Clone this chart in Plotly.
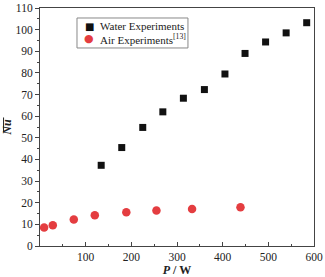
import plotly.graph_objects as go

water_p = [134, 179, 225, 269, 314, 360, 405, 449, 494, 539, 584]
water_nu = [37.3, 45.5, 54.8, 62.0, 68.3, 72.3, 79.5, 89.0, 94.3, 98.5, 103.2]
air_p = [9, 28, 74, 120, 189, 255, 333, 439]
air_nu = [8.5, 9.6, 12.3, 14.2, 15.6, 16.4, 17.1, 17.9]
series_names = ["Water Experiments", "Air Experiments<sup>[13]</sup>"]
series_colors = ["#111111", "#e43d40"]
series_glyphs = ["\u25A0", "\u25CF"]

font = "Liberation Serif, Times New Roman, serif"

fig = go.Figure()
fig.add_trace(go.Scatter(x=water_p, y=water_nu, mode="markers", name=series_names[0],
                         marker=dict(symbol="square", size=7, color=series_colors[0])))
fig.add_trace(go.Scatter(x=air_p, y=air_nu, mode="markers", name=series_names[1],
                         marker=dict(symbol="circle", size=8.5, color=series_colors[1])))

# manual legend (box + glyphs + labels) placed in paper coordinates
fig.add_shape(type="rect", xref="paper", yref="paper", x0=0.135, x1=0.540, y0=0.832, y1=0.958,
              line=dict(color="#888", width=1), fillcolor="white", layer="above")
rows_y = [0.924, 0.870]
for name, col, g, yy in zip(series_names, series_colors, series_glyphs, rows_y):
    fig.add_annotation(xref="paper", yref="paper", x=0.179, y=yy, text=g, showarrow=False,
                       font=dict(family="DejaVu Sans", size=10 if g == "\u25A0" else 11, color=col),
                       xanchor="center", yanchor="middle")
    fig.add_annotation(xref="paper", yref="paper", x=0.212, y=yy, text=name, showarrow=False,
                       font=dict(family=font, size=11, color="#222"),
                       xanchor="left", yanchor="middle")

# overline of the mean Nusselt number symbol (y title is rotated, so the bar is vertical)
fig.add_shape(type="line", xref="paper", yref="paper", x0=-0.133, x1=-0.133, y0=0.478, y1=0.540,
              line=dict(color="#222", width=1))

fig.update_layout(
    width=325, height=277,
    margin=dict(l=40, r=11, t=8, b=31),
    paper_bgcolor="white", plot_bgcolor="white",
    font=dict(family=font, size=11.5, color="#222"),
    showlegend=False,
    xaxis=dict(range=[0, 600], tickvals=[100, 200, 300, 400, 500, 600],
               ticks="inside", ticklen=4, tickcolor="#444", automargin=False,
               minor=dict(tickvals=[50, 150, 250, 350, 450, 550], ticks="inside", ticklen=2, tickcolor="#444"),
               showline=True, linecolor="#444", linewidth=1, mirror=True,
               showgrid=False, zeroline=False,
               title=dict(text="<b><i>P</i> / W</b>", standoff=2, font=dict(size=12))),
    yaxis=dict(range=[0, 110], dtick=10,
               ticks="outside", ticklen=4, tickcolor="#444", automargin=False,
               minor=dict(dtick=5, ticks="outside", ticklen=2, tickcolor="#444"),
               showline=True, linecolor="#444", linewidth=1, mirror=True,
               showgrid=False, zeroline=False,
               title=dict(text="<b><i>Nu</i></b>", standoff=4, font=dict(size=12))),
)

fig.write_html("out.html", config={"displayModeBar": False},
               post_script="document.body.style.margin='0';document.body.style.overflow='hidden';")
